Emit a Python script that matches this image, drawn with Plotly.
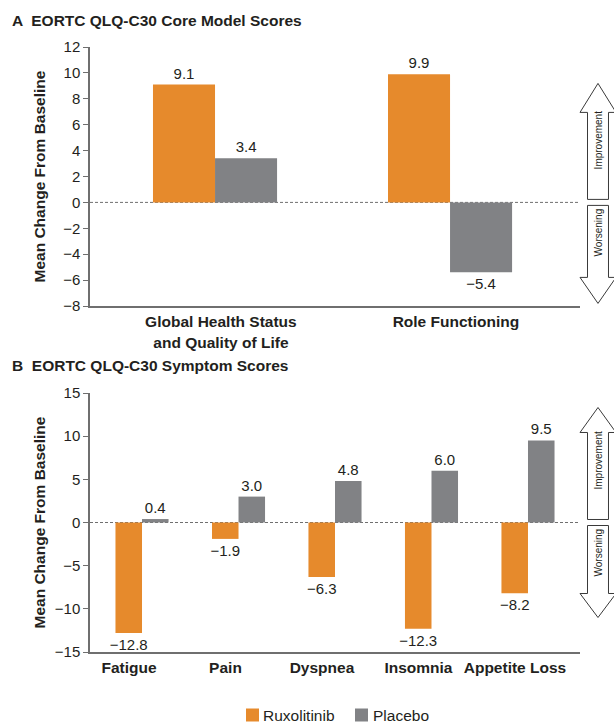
import plotly.graph_objects as go

# ---------------- data ----------------
core_categories = ["Global Health Status<br>and Quality of Life", "Role Functioning"]
core_rux = [9.1, 9.9]
core_pbo = [3.4, -5.4]
core_yticks = [-8, -6, -4, -2, 0, 2, 4, 6, 8, 10, 12]

sym_categories = ["Fatigue", "Pain", "Dyspnea", "Insomnia", "Appetite Loss"]
sym_rux = [-12.8, -1.9, -6.3, -12.3, -8.2]
sym_pbo = [0.4, 3.0, 4.8, 6.0, 9.5]
sym_yticks = [-15, -10, -5, 0, 5, 10, 15]

series_names = ["Ruxolitinib", "Placebo"]
panel_titles = ["A  EORTC QLQ-C30 Core Model Scores", "B  EORTC QLQ-C30 Symptom Scores"]
y_title = "Mean Change From Baseline"
arrow_labels = ["Improvement", "Worsening"]

# ---------------- style ----------------
W, H = 614, 726
ML, MR, MT, MB = 90, 34, 47, 74
ORANGE = "#E68A2C"
GRAY = "#818285"
AXIS = "#6F6F6F"
TXT = "#231F20"
FONT = "Liberation Sans, Arial, sans-serif"
FS_TICK, FS_VAL, FS_CAT, FS_TITLE, FS_LEG, FS_ARROW = 15, 15, 15.5, 15.5, 15.5, 10

PW = W - ML - MR
PH = H - MT - MB


def px_x(px):
    return (px - ML) / PW


def px_y(py):
    return (H - MB - py) / PH


A_TOP, A_BOT = 47, 306
B_TOP, B_BOT = 393, 652
LEG_Y = 715


def fmt(v):
    return f"{v:.1f}".replace("-", "\u2212")


fig = go.Figure()

wA, wB = 0.264, 0.275
xA = list(range(len(core_categories)))
xB = list(range(len(sym_categories)))

for vals, name, color, off in [(core_rux, series_names[0], ORANGE, -wA),
                               (core_pbo, series_names[1], GRAY, 0)]:
    fig.add_trace(go.Bar(x=xA, y=vals, name=name, marker_color=color, marker_line_width=0,
                         width=wA, offset=off, text=[fmt(v) for v in vals],
                         textposition="outside", cliponaxis=False, constraintext="none",
                         textfont=dict(size=FS_VAL, color=TXT, family=FONT),
                         showlegend=False, xaxis="x", yaxis="y"))

for vals, name, color, off in [(sym_rux, series_names[0], ORANGE, -wB),
                               (sym_pbo, series_names[1], GRAY, 0)]:
    fig.add_trace(go.Bar(x=xB, y=vals, name=name, marker_color=color, marker_line_width=0,
                         width=wB, offset=off, text=[fmt(v) for v in vals],
                         textposition="outside", cliponaxis=False, constraintext="none",
                         textfont=dict(size=FS_VAL, color=TXT, family=FONT),
                         showlegend=False, xaxis="x2", yaxis="y2"))

yaxis_common = dict(showline=True, linecolor=AXIS, linewidth=1.5, ticks="outside",
                    ticklen=5, tickcolor=AXIS, tickwidth=1.2, showgrid=False, zeroline=False,
                    tickfont=dict(size=FS_TICK, color=TXT, family=FONT))
xaxis_common = dict(showline=True, linecolor=AXIS, linewidth=1.5, ticks="", showgrid=False,
                    zeroline=False, ticklabelstandoff=1,
                    tickfont=dict(size=FS_CAT, color=TXT, family=FONT))

fig.update_layout(
    width=W, height=H,
    margin=dict(l=ML, r=MR, t=MT, b=MB, autoexpand=False),
    paper_bgcolor="white", plot_bgcolor="white",
    font=dict(family=FONT, color=TXT),
    barmode="overlay",
    showlegend=False,
    xaxis=dict(domain=[0, 1], anchor="y", range=[-0.532, 1.553],
               tickvals=[i + 0.025 for i in xA], ticktext=["<b>%s</b>" % c for c in core_categories],
               **xaxis_common),
    yaxis=dict(domain=[px_y(A_BOT), px_y(A_TOP)], anchor="x", range=[-8, 12],
               tickvals=core_yticks, **yaxis_common),
    xaxis2=dict(domain=[0, 1], anchor="y2", range=[-0.539, 4.539],
                tickvals=[i - 0.135 for i in xB], ticktext=["<b>%s</b>" % c for c in sym_categories],
                **xaxis_common),
    yaxis2=dict(domain=[px_y(B_BOT), px_y(B_TOP)], anchor="x2", range=[-15, 15],
                tickvals=sym_yticks, **yaxis_common),
)

shapes = []
annotations = []

# zero dashed lines
for xr, yr in [("x domain", "y"), ("x2 domain", "y2")]:
    shapes.append(dict(type="line", xref=xr, yref=yr, x0=0, x1=1, y0=0, y1=0,
                       line=dict(color=AXIS, width=1, dash="3px,2px"), layer="below"))

# panel titles
for t, py in [(panel_titles[0], 20), (panel_titles[1], 365)]:
    annotations.append(dict(text="<b>%s</b>" % t, xref="paper", yref="paper",
                            x=px_x(10), y=px_y(py), xanchor="left", yanchor="middle",
                            showarrow=False, font=dict(size=FS_TITLE, color=TXT, family=FONT)))

# y axis titles
for top, bot in [(A_TOP, A_BOT), (B_TOP, B_BOT)]:
    annotations.append(dict(text="<b>%s</b>" % y_title, xref="paper", yref="paper",
                            x=px_x(39), y=px_y((top + bot) / 2), textangle=-90,
                            xanchor="center", yanchor="middle", showarrow=False,
                            font=dict(size=FS_TITLE, color=TXT, family=FONT)))

# legend (drawn as swatch + label, positioned below panel B)
for (sx, tx), name, color in zip([(246, 262), (355, 372)], series_names, [ORANGE, GRAY]):
    shapes.append(dict(type="rect", xref="paper", yref="paper",
                       x0=px_x(sx), x1=px_x(sx + 13), y0=px_y(LEG_Y + 6.5), y1=px_y(LEG_Y - 6.5),
                       fillcolor=color, line=dict(width=0)))
    annotations.append(dict(text=name, xref="paper", yref="paper", x=px_x(tx), y=px_y(LEG_Y),
                            xanchor="left", yanchor="middle", showarrow=False, borderpad=0,
                            font=dict(size=FS_LEG, color=TXT, family=FONT)))

# improvement / worsening arrows
CX, SW, HW = 598, 10.5, 18


def arrow_path(tip, base, end):
    pts = [(CX - SW, end), (CX - SW, base), (CX - HW, base), (CX, tip),
           (CX + HW, base), (CX + SW, base), (CX + SW, end)]
    return "M " + " L ".join(f"{px_x(a):.5f},{px_y(b):.5f}" for a, b in pts) + " Z"


zA = A_TOP + 12 * (A_BOT - A_TOP) / 20
zB = B_TOP + 15 * (B_BOT - B_TOP) / 30
for z, up_tip, up_base, dn_base, dn_tip in [(zA, 119, 90, 75, 101), (zB, 115, 90, 71, 95)]:
    shapes.append(dict(type="path", xref="paper", yref="paper",
                       path=arrow_path(z - up_tip, z - up_base, z - 3),
                       line=dict(color="#3A3A3A", width=1), fillcolor="white"))
    shapes.append(dict(type="path", xref="paper", yref="paper",
                       path=arrow_path(z + dn_tip, z + dn_base, z + 3),
                       line=dict(color="#3A3A3A", width=1), fillcolor="white"))
    annotations.append(dict(text=arrow_labels[0], xref="paper", yref="paper",
                            x=px_x(CX), y=px_y(z - 62), textangle=-90, showarrow=False,
                            xanchor="center", yanchor="middle",
                            font=dict(size=FS_ARROW, color=TXT, family=FONT)))
    annotations.append(dict(text=arrow_labels[1], xref="paper", yref="paper",
                            x=px_x(CX), y=px_y(z + 30), textangle=-90, showarrow=False,
                            xanchor="center", yanchor="middle",
                            font=dict(size=FS_ARROW, color=TXT, family=FONT)))

fig.update_layout(shapes=shapes, annotations=annotations)

POST = """
var gd = document.getElementById('{plot_id}');
[document.documentElement, document.body].forEach(function(el){
  el.style.margin='0'; el.style.padding='0'; el.style.overflow='hidden';
  el.style.height='726px'; el.style.width='614px';
});
gd.style.position='absolute'; gd.style.left='0px'; gd.style.top='0px';
"""
fig.write_html("out.html", config={"displayModeBar": False}, post_script=POST)
